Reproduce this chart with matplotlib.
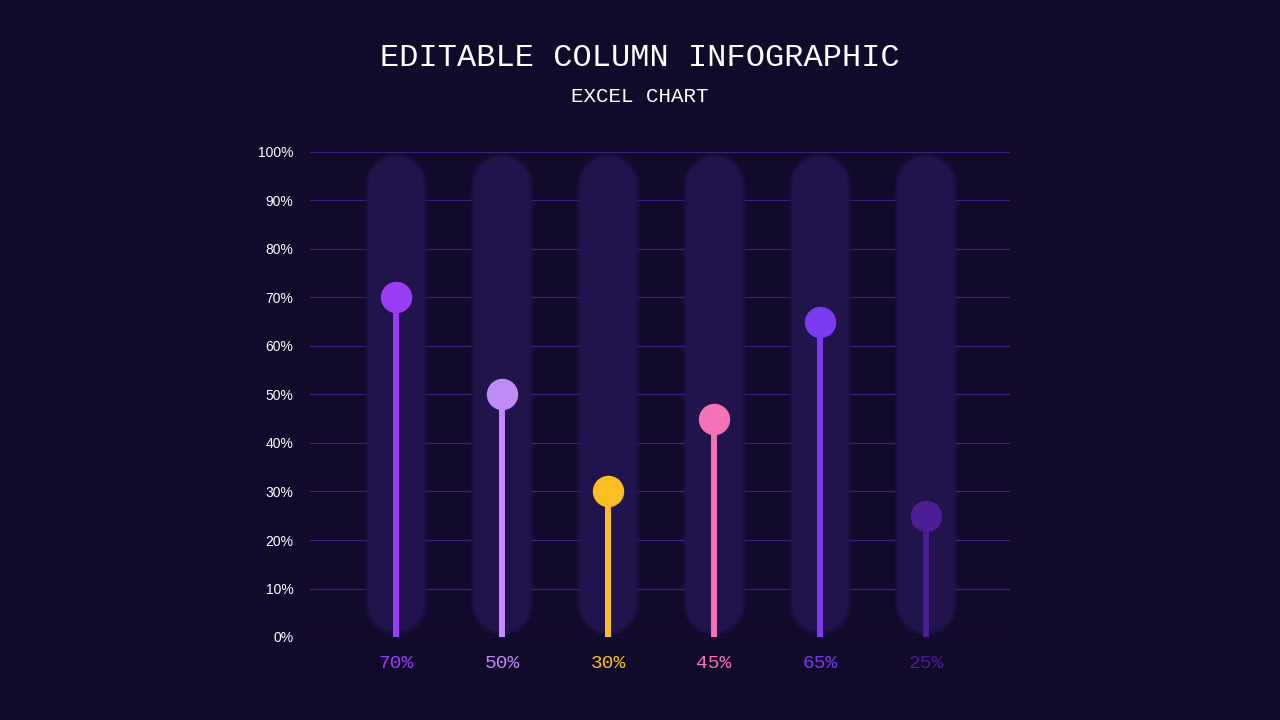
import matplotlib
matplotlib.use("Agg")
import matplotlib.pyplot as plt

values = [70, 50, 30, 45, 65, 25]
labels = ["70%", "50%", "30%", "45%", "65%", "25%"]
colors = ["#9b3cf5", "#c08af7", "#fbbf24", "#f472b6", "#7c3aed", "#4c1d95"]
yticks = list(range(0, 101, 10))

bg = "#120a2a"
fig = plt.figure(figsize=(12.8, 7.2), dpi=100, facecolor=bg)
ax = fig.add_axes([310/1280, 1-637/720, 700/1280, 485/720], facecolor=bg)
ax.set_xlim(-0.81, 5.79)
ax.set_ylim(0, 100)
for t in yticks:
    ax.axhline(t, color="#3a1f85", lw=0.9, zorder=0)
xs = range(len(values))
for i, (v, c) in enumerate(zip(values, colors)):
    for w, a in [(46, 0.25), (44, 0.4), (42, 0.6), (40, 1.0)]:
        ax.plot([i, i], [6.8, 93.2], color="#21134c", lw=w, alpha=a,
                solid_capstyle="round", zorder=1)
    ax.plot([i, i], [0, v], color=c, lw=4.3, zorder=2, solid_capstyle="butt")
    ax.plot([i], [v], "o", color=c, ms=21.6, zorder=3)
    ax.text(i, -5.5, labels[i], color=c, ha="center", va="center",
            fontsize=14, family="Liberation Mono")
ax.set_yticks(yticks)
ax.set_yticklabels([f"{t}%" for t in yticks], color="white", fontsize=10,
                   family="Liberation Sans")
ax.tick_params(axis="y", length=0, pad=12)
ax.set_xticks([])
for s in ax.spines.values():
    s.set_visible(False)
fig.text(0.5, 1-58/720, "EDITABLE COLUMN INFOGRAPHIC", color="white",
         ha="center", va="center", fontsize=23, family="Liberation Mono")
fig.text(0.5, 1-96/720, "EXCEL CHART", color="white", ha="center",
         va="center", fontsize=15, family="Liberation Mono")
fig.savefig("out.png", facecolor=bg)
